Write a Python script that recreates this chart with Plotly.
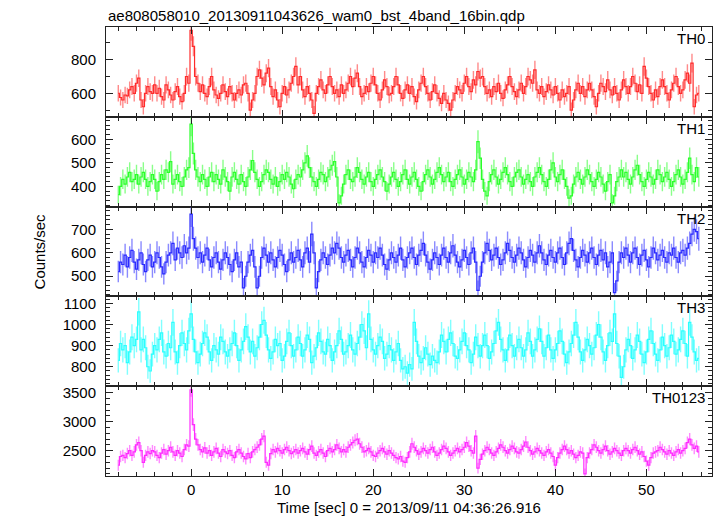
import numpy as np
import plotly.graph_objects as go
from plotly.subplots import make_subplots

# ---- data (0.25 s bins, bin centres) ----
t_start = -8.0
bin_width = 0.25

th0 = [
    600, 575, 560, 590, 585, 620, 640, 600, 660, 690, 560, 520, 600, 640, 610, 600,
    650, 600, 630, 580, 560, 650, 620, 590, 560, 610, 640, 580, 550, 600, 700, 660,
    975, 880, 700, 660, 610, 650, 600, 580, 640, 700, 620, 590, 570, 600, 650, 610,
    580, 640, 600, 560, 600, 620, 590, 650, 660, 600, 500, 560, 600, 700, 740, 690,
    650, 720, 750, 640, 580, 620, 560, 520, 600, 640, 590, 620, 660, 700, 760, 650,
    700, 620, 580, 640, 600, 560, 480, 600, 640, 680, 620, 600, 650, 700, 640, 600,
    620, 580, 650, 600, 620, 660, 700, 640, 690, 720, 640, 580, 600, 640, 610, 660,
    700, 650, 600, 560, 620, 680, 640, 590, 600, 640, 700, 650, 600, 570, 620, 650,
    600, 640, 580, 550, 620, 660, 700, 640, 600, 560, 610, 650, 600, 570, 540, 600,
    560, 540, 500, 560, 600, 640, 620, 600, 660, 700, 640, 610, 680, 650, 730, 690,
    700, 640, 600, 620, 580, 640, 610, 660, 600, 570, 620, 650, 700, 640, 610, 580,
    620, 660, 600, 640, 700, 680, 660, 740, 620, 600, 640, 580, 610, 650, 620, 590,
    640, 600, 560, 620, 580, 600, 640, 500, 560, 620, 660, 600, 640, 580, 620, 660,
    620, 580, 520, 600, 660, 640, 610, 680, 620, 590, 640, 600, 560, 620, 680, 640,
    600, 640, 700, 660, 610, 650, 600, 760, 690, 640, 600, 560, 620, 580, 640, 680,
    640, 600, 560, 620, 660, 700, 640, 600, 620, 680, 720, 660, 780, 520, 590, 600,
]

th1 = [
    365, 400, 430, 410, 440, 460, 420, 430, 450, 410, 440, 460, 430, 400, 420, 450,
    430, 380, 420, 450, 430, 470, 460, 505, 410, 430, 450, 420, 400, 440, 470, 480,
    665, 540, 470, 440, 420, 450, 430, 400, 440, 460, 420, 450, 430, 410, 470, 440,
    420, 380, 440, 460, 430, 410, 450, 420, 400, 440, 470, 510, 460, 430, 400, 420,
    450, 470, 460, 430, 410, 440, 400, 420, 450, 430, 460, 440, 410, 390, 430, 450,
    440, 470, 500, 530, 480, 440, 420, 400, 430, 460, 450, 420, 440, 470, 490, 505,
    440, 330, 360, 410, 450, 470, 430, 420, 440, 480, 460, 430, 410, 440, 460, 420,
    400, 430, 450, 470, 440, 420, 380, 410, 440, 460, 430, 400, 420, 450, 470, 430,
    410, 440, 460, 430, 400, 380, 420, 450, 470, 440, 410, 430, 460, 480, 450, 420,
    440, 460, 420, 400, 430, 450, 470, 440, 410, 430, 460, 440, 420, 470, 590, 520,
    430, 380, 360, 420, 450, 470, 440, 410, 430, 460, 480, 450, 420, 400, 440, 460,
    470, 440, 410, 430, 450, 420, 400, 440, 460, 480, 450, 420, 400, 430, 470, 500,
    440, 420, 450, 470, 430, 400, 350, 360, 410, 440, 460, 430, 410, 440, 470, 450,
    420, 400, 430, 460, 440, 410, 380, 420, 450, 330, 360, 420, 440, 470, 440, 460,
    430, 410, 440, 470, 490, 450, 420, 400, 430, 460, 440, 410, 430, 470, 450, 420,
    440, 460, 430, 400, 420, 450, 470, 440, 410, 430, 460, 520, 450, 420, 480, 440,
]

th2 = [
    520, 560, 550, 590, 540, 580, 610, 560, 530, 570, 600, 550, 520, 570, 590, 540,
    560, 600, 580, 540, 510, 560, 590, 600, 640, 570, 620, 600, 580, 630, 600, 620,
    765, 660, 620, 580, 600, 560, 590, 620, 570, 540, 580, 600, 560, 530, 570, 600,
    580, 550, 520, 570, 600, 540, 560, 450, 500, 560, 590, 610, 540, 450, 500, 580,
    620, 590, 560, 600, 570, 540, 580, 610, 590, 550, 520, 570, 600, 560, 580, 610,
    570, 540, 600, 620, 560, 680, 600, 450, 520, 570, 600, 580, 550, 590, 620, 600,
    640, 620, 580, 560, 590, 610, 570, 540, 580, 620, 600, 560, 540, 580, 610, 590,
    560, 600, 580, 620, 590, 550, 530, 570, 600, 580, 560, 590, 620, 570, 540, 580,
    600, 620, 580, 550, 590, 610, 640, 590, 560, 530, 570, 600, 580, 550, 590, 620,
    580, 560, 600, 630, 590, 560, 540, 570, 610, 580, 550, 600, 620, 560, 440, 500,
    560, 600, 640, 610, 570, 590, 620, 580, 550, 570, 600, 640, 610, 580, 560, 590,
    620, 600, 570, 540, 580, 610, 590, 560, 600, 630, 600, 570, 550, 590, 610, 580,
    560, 600, 620, 580, 550, 600, 640, 660, 610, 570, 540, 580, 610, 590, 560, 600,
    620, 580, 550, 590, 610, 570, 600, 540, 560, 600, 430, 480, 560, 600, 580, 620,
    590, 560, 600, 620, 580, 550, 590, 610, 570, 540, 580, 620, 600, 570, 590, 610,
    580, 560, 600, 590, 620, 580, 560, 600, 610, 590, 620, 640, 680, 700, 690, 660,
]

th3 = [
    830, 910, 880, 900, 820, 870, 940, 900, 930, 1060, 880, 930, 890, 800, 780, 860,
    900, 880, 930, 960, 870, 850, 910, 890, 1010, 870, 820, 900, 960, 910, 880, 970,
    1050, 930, 870, 820, 860, 910, 960, 940, 870, 830, 900, 880, 860, 940, 920, 870,
    850, 880, 910, 960, 900, 830, 880, 920, 990, 940, 870, 920, 850, 890, 940, 1000,
    1020, 950, 880, 840, 870, 930, 900, 910, 830, 850, 920, 960, 900, 850, 880, 940,
    910, 850, 880, 950, 930, 820, 850, 890, 960, 920, 870, 860, 930, 900, 830, 870,
    900, 970, 930, 860, 870, 900, 950, 880, 860, 910, 940, 1000, 970, 890, 1050, 930,
    880, 860, 900, 940, 920, 840, 860, 900, 880, 830, 870, 910, 830, 790, 800, 770,
    810, 790, 1010, 920, 850, 820, 840, 890, 860, 810, 850, 830, 820, 870, 950, 920,
    870, 930, 960, 910, 850, 840, 880, 920, 960, 900, 880, 820, 860, 940, 900, 850,
    900, 950, 900, 840, 870, 910, 970, 1010, 930, 880, 830, 880, 950, 900, 850, 890,
    930, 890, 850, 880, 960, 920, 850, 880, 930, 980, 920, 850, 890, 950, 880, 840,
    880, 910, 970, 920, 860, 820, 870, 910, 950, 1010, 940, 870, 830, 880, 930, 900,
    860, 890, 950, 1000, 940, 870, 830, 900, 960, 920, 1050, 910, 850, 750, 800, 880,
    930, 900, 840, 880, 950, 920, 860, 820, 870, 930, 970, 910, 860, 830, 880, 940,
    900, 850, 890, 950, 920, 860, 880, 930, 970, 910, 850, 1010, 940, 870, 830, 840,
]

th0123 = [
    2250, 2400, 2420, 2380, 2450, 2500, 2420, 2480, 2600, 2640, 2500, 2300, 2420, 2480, 2450, 2500,
    2480, 2420, 2380, 2460, 2520, 2440, 2500, 2560, 2480, 2420, 2500, 2460, 2400, 2520, 2600, 2580,
    3550, 2950, 2700, 2600, 2520, 2480, 2550, 2460, 2500, 2420, 2480, 2540, 2460, 2400, 2520, 2480,
    2450, 2500, 2420, 2380, 2480, 2520, 2460, 2400, 2360, 2450, 2380, 2480, 2520, 2560, 2600, 2700,
    2750, 2300, 2250, 2450, 2520, 2480, 2540, 2500, 2460, 2520, 2560, 2500, 2450, 2480, 2520, 2460,
    2500, 2540, 2480, 2440, 2520, 2580, 2460, 2420, 2480, 2520, 2460, 2400, 2500, 2540, 2480, 2520,
    2600, 2540, 2480, 2520, 2480, 2560, 2600, 2640, 2680, 2700, 2620, 2560, 2480, 2500, 2540, 2480,
    2420, 2400, 2460, 2500, 2540, 2480, 2440, 2500, 2460, 2420, 2380, 2360, 2400, 2320, 2300, 2380,
    2480, 2620, 2560, 2500, 2440, 2480, 2540, 2500, 2460, 2520, 2560, 2480, 2420, 2460, 2520, 2580,
    2540, 2480, 2420, 2460, 2500, 2540, 2480, 2520, 2560, 2640, 2580, 2500, 2460, 2750, 2200, 2350,
    2440, 2500, 2560, 2520, 2460, 2420, 2480, 2540, 2600, 2560, 2500, 2460, 2520, 2580, 2540, 2480,
    2460, 2520, 2580, 2650, 2560, 2500, 2440, 2480, 2540, 2500, 2460, 2420, 2480, 2520, 2460, 2400,
    2250, 2380, 2460, 2520, 2580, 2520, 2460, 2500, 2440, 2380, 2420, 2480, 2460, 2100, 2380, 2460,
    2520, 2600, 2560, 2500, 2460, 2520, 2580, 2500, 2440, 2480, 2540, 2500, 2460, 2420, 2500, 2540,
    2500, 2460, 2520, 2560, 2500, 2440, 2480, 2400, 2320, 2250, 2380, 2460, 2480, 2500, 2560, 2520,
    2480, 2440, 2500, 2460, 2420, 2480, 2520, 2460, 2500, 2540, 2640, 2700, 2600, 2540, 2580, 2480,
]

panel_names = ["TH0", "TH1", "TH2", "TH3", "TH0123"]
series = [th0, th1, th2, th3, th0123]
y_ranges = [[460, 995], [314, 696], [414, 797], [708, 1133], [2064, 3612]]
y_dticks = [200, 100, 100, 100, 500]
y_minor = [100, 20, 20, 20, 100]
line_colors = ["#ff2a2a", "#2aff2a", "#2a2aff", "#2affff", "#ff2aff"]
err_colors = ["rgba(255,60,60,0.6)", "rgba(60,255,60,0.6)", "rgba(60,60,255,0.6)",
              "rgba(60,255,255,0.65)", "rgba(255,60,255,0.6)"]
x_range = [-9.35, 57.2]
title_text = "ae808058010_20130911043626_wam0_bst_4band_16bin.qdp"
x_title = "Time [sec] 0 = 2013/09/11 04:36:26.916"
y_title = "Counts/sec"

FONT = "Liberation Sans, Arial, Helvetica, sans-serif"

fig = make_subplots(rows=5, cols=1, shared_xaxes=True, vertical_spacing=0)

for k, (vals, name) in enumerate(zip(series, panel_names)):
    v = np.array(vals, dtype=float)
    t = t_start + bin_width * np.arange(len(v))
    err = np.sqrt(v * bin_width) / bin_width
    fig.add_trace(go.Scatter(
        x=t, y=v, mode="lines", name=name,
        line=dict(color=line_colors[k], width=1.2, shape="hvh"),
        error_y=dict(type="data", array=err, visible=True, color=err_colors[k],
                     thickness=1.4, width=0),
        showlegend=False, hoverinfo="skip"), row=k + 1, col=1)

    fig.update_yaxes(row=k + 1, col=1,
                     range=y_ranges[k], dtick=y_dticks[k], tick0=0,
                     ticks="inside", ticklen=7, tickwidth=1, tickcolor="#222",
                     minor=dict(dtick=y_minor[k], ticks="inside", ticklen=4,
                                tickcolor="#222", tickwidth=1, showgrid=False),
                     showline=True, linecolor="#222", linewidth=1, mirror="allticks",
                     showgrid=False, zeroline=False,
                     tickfont=dict(family=FONT, size=15, color="#000"),
                     ticklabelstandoff=6)
    fig.update_xaxes(row=k + 1, col=1,
                     range=x_range, dtick=10, tick0=0,
                     ticks="inside", ticklen=7, tickwidth=1, tickcolor="#222",
                     minor=dict(dtick=2, ticks="inside", ticklen=4,
                                tickcolor="#222", tickwidth=1, showgrid=False),
                     showline=True, linecolor="#222", linewidth=1, mirror="allticks",
                     showgrid=False, zeroline=False,
                     tickfont=dict(family=FONT, size=15, color="#000"))

    # panel label
    fig.add_annotation(text=name, xref="x domain", yref="y domain",
                       x=1, y=1, xanchor="right", yanchor="top",
                       xshift=-5, yshift=-1, showarrow=False,
                       font=dict(family=FONT, size=15, color="#000"),
                       row=k + 1, col=1)

fig.add_annotation(text=title_text, xref="paper", yref="paper", x=0, y=1,
                   xanchor="left", yanchor="bottom", yshift=1, showarrow=False,
                   font=dict(family=FONT, size=15, color="#000"))
fig.add_annotation(text=x_title, xref="paper", yref="paper", x=0.5, y=0,
                   xanchor="center", yanchor="middle", yshift=-31, showarrow=False,
                   font=dict(family=FONT, size=15, color="#000"))
fig.add_annotation(text=y_title, xref="paper", yref="paper", x=-0.109, y=0.5,
                   xanchor="center", yanchor="middle", textangle=-90, showarrow=False,
                   font=dict(family=FONT, size=15, color="#000"))

fig.update_layout(width=717, height=516,
                  margin=dict(l=106, r=5, t=27, b=40),
                  paper_bgcolor="white", plot_bgcolor="white",
                  font=dict(family=FONT))

fig.write_html("out.html", config={"displayModeBar": False},
               post_script="document.body.style.margin='0';document.body.style.padding='0';")
